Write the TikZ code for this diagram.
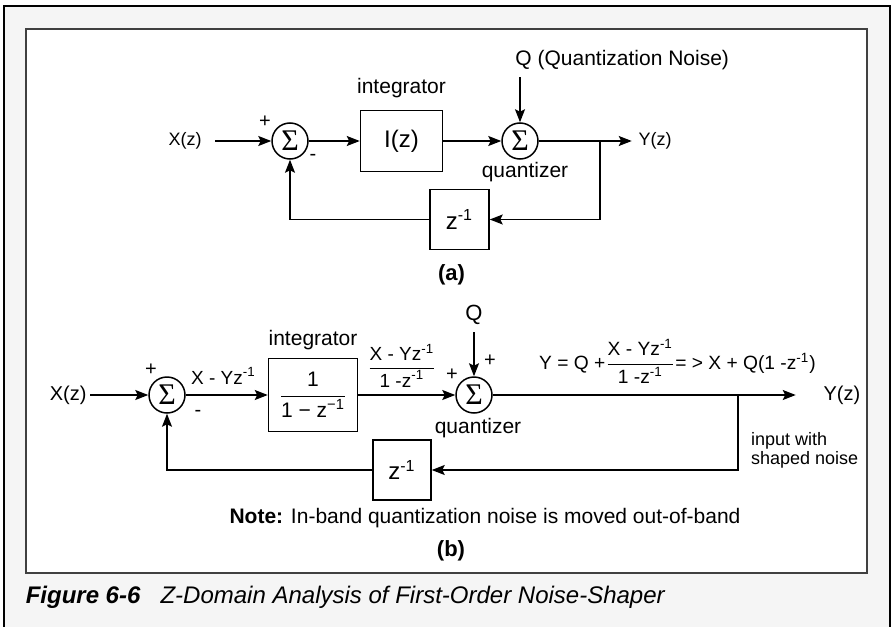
\documentclass[tikz,border=0pt]{standalone}
\usepackage{amsmath}
\usepackage{fontspec}
\setmainfont{Liberation Sans}
\newfontfamily\sigmafont{Liberation Serif}
\usepackage{tikz}
\usetikzlibrary{arrows.meta, positioning}

\newcommand{\negone}{\textsuperscript{-1}}
\newcommand{\sigmasym}{{\sigmafont\fontsize{15}{15}\selectfont Σ}}
\newcommand{\fsz}[1]{\fontsize{#1}{#1}\selectfont}

\begin{document}
\begin{tikzpicture}[x=0.5pt, y=-0.5pt, font=\fsz{10.5}, line width=0.75pt,
    >={Stealth[length=6.5pt, width=5pt, inset=1.2pt]},
    sumnode/.style={draw, circle, minimum size=18pt, inner sep=0pt},
    blk/.style={draw, inner sep=0pt, font=\fsz{12}},
    lbl/.style={font=\fsz{9.5}},
    sgn/.style={font=\fsz{10}, inner sep=0.5pt},
    io/.style={inner ysep=3pt}]

  \useasboundingbox (0,0) rectangle (892,626);
  \draw[line width=1.3pt, fill=black!4] (4,6) rectangle (890,660);
  \draw[line width=0.9pt, draw=black!75, fill=white] (26,29) rectangle (867,573);

  % (a)
  \node[sumnode] (sa1) at (290,141) {\sigmasym};
  \node[blk, minimum width=41pt, minimum height=30.5pt, right=25.5pt of sa1] (iz) {I(z)};
  \node[sumnode, right=29pt of iz] (sa2) {\sigmasym};
  \node[io, inner xsep=6.5pt, font=\fsz{9}, left=28pt of sa1] (xa) {X(z)};
  \node[io, inner xsep=3pt, font=\fsz{9}, right=46.5pt of sa2] (ya) {Y(z)};
  \coordinate[right=30.5pt of sa2] (ba);
  \node[blk, minimum width=29.5pt, minimum height=30pt,
        below right=8.25pt and -7pt of iz] (za) {z\negone};

  \node[above right=22.5pt and -6pt of sa2.north] (qa) {Q (Quantization Noise)};
  \node[above=2pt of iz] (inta) {integrator};
  \node[below=-2.5pt of sa2, xshift=2.5pt] (qza) {quantizer};
  \node[below=3.5pt of za, xshift=-4pt, font=\fsz{11}\bfseries] (la) {(a)};
  \node[sgn] (pa1) at ([shift={(-25,-19)}]sa1) {+};
  \node[sgn] (ma1) at ([shift={(23,16)}]sa1) {-};

  \foreach \a/\b in {xa/sa1, sa1/iz, iz/sa2, sa2/ya}
    \draw[->] (\a) -- (\b);
  \draw[->] (sa2 |- qa.south) -- (sa2);
  \draw[->] (ba) |- (za);
  \draw[->] (za) -| (sa1);

  % (b)
  \node[sumnode] (sb1) at (167,395) {\sigmasym};
  \node[blk, font=\fsz{10.5}, minimum width=44.5pt, minimum height=36.5pt,
        right=41pt of sb1] (ib) {$\dfrac{\text{1}}{\text{1 − z\textsuperscript{−1}}}$};
  \node[sumnode, right=48.5pt of ib] (sb2) {\sigmasym};
  \node[io, inner xsep=1.5pt, font=\fsz{10}, left=29pt of sb1] (xb) {X(z)};
  \node[io, inner xsep=13.5pt, font=\fsz{10}, right=151.5pt of sb2] (yb) {Y(z)};
  \coordinate[right=122.5pt of sb2] (bb);
  \node[blk, minimum width=29pt, minimum height=30pt,
        below right=3.5pt and 7pt of ib] (zb) {z\negone};

  \node[above=22pt of sb2, font=\fsz{11}] (qb) {Q};
  \node[above=0pt of ib] (intb) {integrator};
  \node[below=-1.5pt of sb2, xshift=2pt] (qzb) {quantizer};
  \path (sb1) -- (ib) node[lbl, pos=0.46, above=1.5pt] (eb) {X - Yz\negone};
  \path (ib) -- (sb2) node[lbl, pos=0.45, above=0pt] (fb)
    {$\dfrac{\text{X - Yz\negone}}{\text{1 -z\negone}}$};
  \node[lbl, font=\fsz{9.6}, anchor=base west, xshift=19.5pt, yshift=12.75pt] (eqb) at (sb2.east)
    {Y = Q +$\dfrac{\text{X - Yz\negone}}{\text{1 -z\negone}}$= > X + Q(1 -z\negone)};
  \node[below right=15pt and 3pt of bb, align=left, font=\fontsize{9}{9.5}\selectfont] (inb)
    {input with\\shaped noise};
  \node[below=0pt of zb, xshift=41.5pt] (nb)
    {\textbf{Note:} In-band quantization noise is moved out-of-band};
  \node[below=-1pt of nb, xshift=-17pt, font=\fsz{11}\bfseries] (lb) {(b)};
  \node[sgn] (pb1) at ([shift={(-16,-25)}]sb1) {+};
  \node[sgn] (mb1) at ([shift={(31,18)}]sb1) {-};
  \node[sgn] (pb2) at ([shift={(-22,-20)}]sb2) {+};
  \node[sgn] (pb3) at ([shift={(16,-34)}]sb2) {+};

  \foreach \a/\b in {xb/sb1, sb1/ib, ib/sb2, sb2/yb}
    \draw[->] (\a) -- (\b);
  \draw[->] (qb) -- (sb2);
  \draw[->] (bb) |- (zb);
  \draw[->] (zb) -| (sb1);

  % caption
  \node[anchor=base west, inner sep=0pt, font=\fsz{12}] (cap) at (25,603)
    {\textbf{\textit{Figure 6-6}}\hspace{10pt}\textit{Z-Domain Analysis of First-Order Noise-Shaper}};
\end{tikzpicture}
\end{document}
